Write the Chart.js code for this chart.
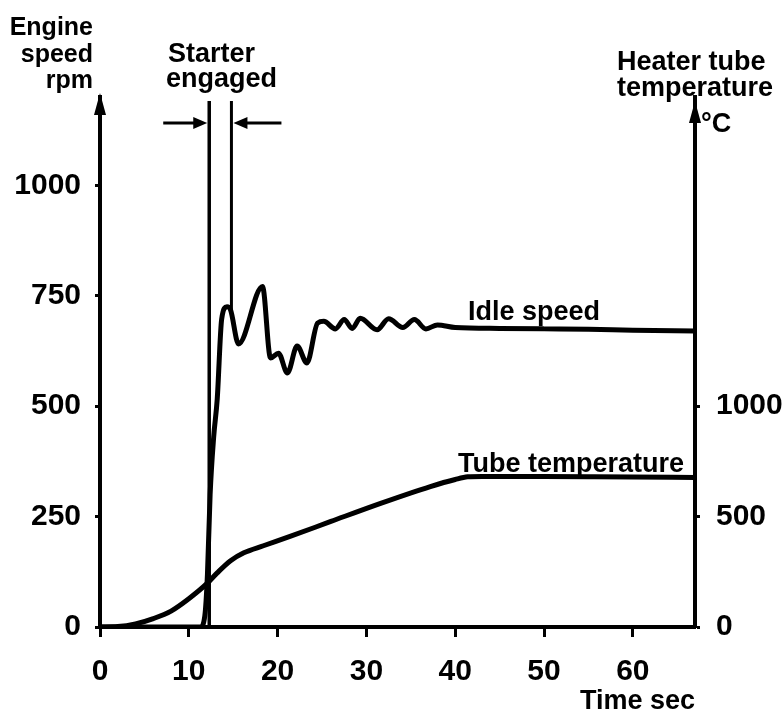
<!DOCTYPE html>
<html>
<head>
<meta charset="utf-8">
<script src="https://cdn.jsdelivr.net/npm/chart.js@4/dist/chart.umd.min.js"></script>
<style>
  html, body { margin: 0; padding: 0; background: #fff; }
  #box { width: 783px; height: 713px; }
</style>
</head>
<body>
<div id="box"><canvas id="grafico" width="783" height="713"></canvas></div>
<script>
// tempo (s) e rotação do motor (rpm)
const speedTime = [0, 11.3, 11.8, 12.1, 12.4, 12.8, 13.2, 13.7, 14.3, 14.7, 15.6, 18.3, 19.2, 20.1, 21.1, 22.2, 23.3, 24.5, 25.2, 26.5, 27.5, 28.4, 29.3, 31.2, 32.5, 34.1, 35.4, 36.7, 38.0, 40, 45, 50, 55, 60, 67];
const engineSpeed = [0, 0, 25, 120, 300, 430, 516, 697, 725, 718, 641, 771, 609, 620, 575, 636, 598, 688, 692, 675, 696, 676, 699, 673, 698, 678, 696, 675, 684, 678, 676, 675, 674, 672, 670];

// tempo (s) e temperatura do tubo (°C)
const tempTime = [0, 2, 4, 6, 8, 10, 12, 13.2, 14.7, 16.2, 18.4, 21.4, 26.0, 31.6, 37.2, 40, 41.4, 43, 50, 55, 60, 67];
const tubeTemp = [0, 2, 14, 38, 72, 128, 195, 245, 300, 336, 368, 410, 478, 560, 636, 668, 680, 682, 681, 680, 679, 677];

// marcas dos eixos
const timeTicks = [0, 10, 20, 30, 40, 50, 60];
const speedTicks = [0, 250, 500, 750, 1000];
const tempTicks = [0, 500, 1000];

// instantes em que o motor de arranque engata / desengata
const starterTimes = [12.3, 14.8];

const fonte = '"Liberation Sans", Arial, sans-serif';
const preto = '#000';

function pontos(xs, ys) {
    return xs.map((x, i) => ({ x: x, y: ys[i] }));
}

// desenha textos, setas e as linhas do arranque
const anotacoes = {
    id: 'anotacoes',
    afterDraw(chart) {
        const ctx = chart.ctx;
        const area = chart.chartArea;
        const sx = chart.scales.x;
        const sy = chart.scales.y;
        ctx.save();
        ctx.fillStyle = preto;
        ctx.strokeStyle = preto;

        // setas no topo dos eixos
        function seta(x, y) {
            ctx.beginPath();
            ctx.moveTo(x, y - 4);
            ctx.lineTo(x - 6, y + 18);
            ctx.lineTo(x + 6, y + 18);
            ctx.closePath();
            ctx.fill();
        }
        seta(area.left, area.top);
        seta(area.right, area.top + 8);

        // linhas verticais do arranque
        const xa = sx.getPixelForValue(starterTimes[0]);
        const xb = sx.getPixelForValue(starterTimes[1]);
        ctx.lineWidth = 3.5;
        ctx.beginPath();
        ctx.moveTo(xa, area.top + 4);
        ctx.lineTo(xa, sy.getPixelForValue(0));
        ctx.stroke();
        ctx.lineWidth = 3;
        ctx.beginPath();
        ctx.moveTo(xb, area.top + 4);
        ctx.lineTo(xb, sy.getPixelForValue(720));
        ctx.stroke();

        // setas horizontais apontando para as linhas
        const ya = area.top + 26;
        ctx.lineWidth = 3;
        ctx.beginPath();
        ctx.moveTo(xa - 46, ya);
        ctx.lineTo(xa - 10, ya);
        ctx.moveTo(xb + 50, ya);
        ctx.lineTo(xb + 10, ya);
        ctx.stroke();
        ctx.beginPath();
        ctx.moveTo(xa - 2, ya);
        ctx.lineTo(xa - 16, ya - 6);
        ctx.lineTo(xa - 16, ya + 6);
        ctx.closePath();
        ctx.fill();
        ctx.beginPath();
        ctx.moveTo(xb + 2, ya);
        ctx.lineTo(xb + 16, ya - 6);
        ctx.lineTo(xb + 16, ya + 6);
        ctx.closePath();
        ctx.fill();

        // textos
        ctx.textBaseline = 'alphabetic';
        ctx.font = 'bold 25px ' + fonte;
        ctx.textAlign = 'right';
        ctx.fillText('Engine', 93, 35);
        ctx.fillText('speed', 93, 62);
        ctx.fillText('rpm', 93, 88);

        ctx.font = 'bold 27px ' + fonte;
        ctx.textAlign = 'left';
        ctx.fillText('Starter', 168, 62);
        ctx.fillText('engaged', 166, 87);
        ctx.fillText('Heater tube', 617, 70);
        ctx.fillText('temperature', 617, 96);
        ctx.fillText('°C', 701, 132);
        ctx.fillText('Idle speed', 468, 320);
        ctx.fillText('Tube temperature', 458, 472);
        ctx.fillText('Time sec', 580, 709);
        ctx.restore();
    }
};

const data = {
    datasets: [
        {
            label: 'Idle speed',
            data: pontos(speedTime, engineSpeed),
            yAxisID: 'y',
            borderColor: preto,
            borderWidth: 5,
            pointRadius: 0,
            fill: false,
            cubicInterpolationMode: 'monotone'
        },
        {
            label: 'Tube temperature',
            data: pontos(tempTime, tubeTemp),
            yAxisID: 'y1',
            borderColor: preto,
            borderWidth: 5,
            pointRadius: 0,
            fill: false,
            cubicInterpolationMode: 'monotone'
        }
    ]
};

const tickFont = { family: fonte, size: 30, weight: 'bold' };
const semVirgula = v => String(v);

const config = {
    type: 'line',
    data: data,
    options: {
        responsive: false,
        animation: false,
        layout: { padding: { top: 97, left: 0, right: 0, bottom: 0 } },
        plugins: {
            legend: { display: false },
            tooltip: { enabled: false }
        },
        scales: {
            x: {
                type: 'linear',
                min: 0,
                max: 67,
                afterBuildTicks: s => { s.ticks = timeTicks.map(v => ({ value: v })); },
                afterFit: s => { s.height = 86; },
                ticks: { font: tickFont, color: preto, padding: 17, maxRotation: 0, autoSkip: false, callback: semVirgula },
                grid: { drawOnChartArea: false, drawTicks: true, tickLength: 10, tickWidth: 3, color: preto },
                border: { display: true, width: 4, color: preto }
            },
            y: {
                position: 'left',
                min: 0,
                max: 1200,
                afterBuildTicks: s => { s.ticks = speedTicks.map(v => ({ value: v })); },
                afterFit: s => { s.width = 100; },
                ticks: { font: tickFont, color: preto, padding: 14, callback: semVirgula },
                grid: { drawOnChartArea: false, drawTicks: true, tickLength: 5, tickWidth: 3, color: preto },
                border: { display: true, width: 4, color: preto }
            },
            y1: {
                position: 'right',
                min: 0,
                max: 2400,
                afterBuildTicks: s => { s.ticks = tempTicks.map(v => ({ value: v })); },
                afterFit: s => { s.width = 88; },
                ticks: { font: tickFont, color: preto, padding: 16, callback: semVirgula },
                grid: { drawOnChartArea: false, drawTicks: true, tickLength: 5, tickWidth: 3, color: preto },
                border: { display: true, width: 4, color: preto }
            }
        }
    },
    plugins: [anotacoes]
};

new Chart(document.getElementById('grafico'), config);
</script>
</body>
</html>
